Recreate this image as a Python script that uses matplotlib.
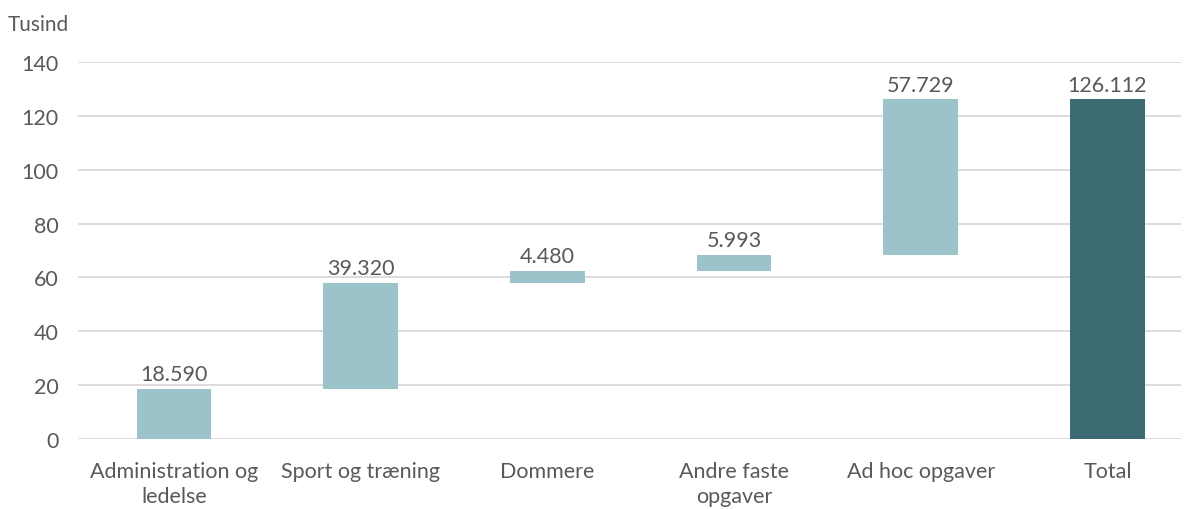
import numpy as np
import matplotlib.pyplot as plt

plt.rcParams['font.family'] = ['Lato', 'DejaVu Sans']

categories = ["Administration og\nledelse", "Sport og træning", "Dommere",
              "Andre faste\nopgaver", "Ad hoc opgaver", "Total"]
steps = [18.590, 39.320, 4.480, 5.993, 57.729]
total = 126.112
value_labels = ["18.590", "39.320", "4.480", "5.993", "57.729", "126.112"]

light = "#9BC3C9"
dark = "#3D6B73"
txt = "#595959"

bottoms = np.concatenate([[0], np.cumsum(steps)[:-1], [0]])
heights = np.array(steps + [total])
colors = [light] * len(steps) + [dark]

fig = plt.figure(figsize=(11.89, 5.10), dpi=100)
ax = fig.add_axes([78 / 1189, 1 - 440 / 510, 1103 / 1189, 377 / 510])

x = np.arange(len(categories))
ax.bar(x, heights, bottom=bottoms, width=0.40, color=colors, zorder=2)

for xi, b, h, lab in zip(x, bottoms, heights, value_labels):
    ax.text(xi, b + h + 1.8, lab, ha="center", va="bottom", fontsize=15.5, color=txt)

ax.set_ylim(0, 140)
ax.set_xlim(-0.514, 5.394)
ax.set_yticks(np.arange(0, 141, 20))
ax.set_xticks(x)
ax.set_xticklabels(categories, linespacing=1.3)
ax.yaxis.grid(True, color="#D9D9D9", linewidth=1.3, zorder=0)
ax.set_axisbelow(True)
for s in ax.spines.values():
    s.set_visible(False)
ax.tick_params(axis="both", length=0, labelsize=15.5, labelcolor=txt)
ax.tick_params(axis="y", pad=14)
ax.tick_params(axis="x", pad=16)

fig.text(8 / 1189, 1 - 25 / 510, "Tusind", fontsize=15, color=txt, va="center", ha="left")

fig.savefig("out.png", dpi=100)
